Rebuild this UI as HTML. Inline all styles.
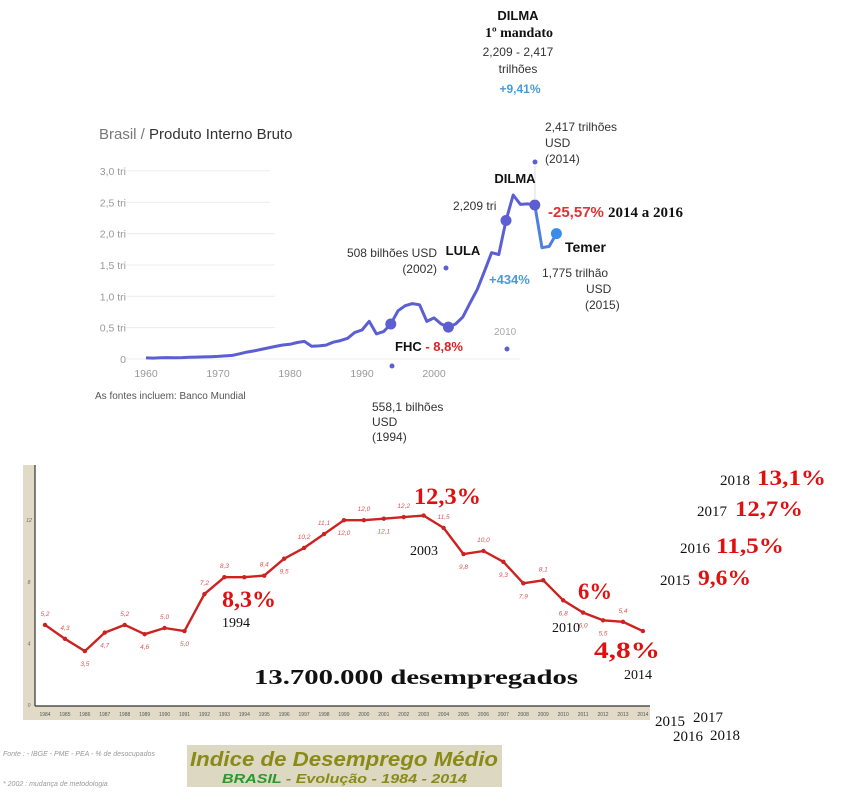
<!DOCTYPE html>
<html><head><meta charset="utf-8">
<style>
html,body{margin:0;padding:0;background:#fff;}
svg{display:block;}
.s{font-family:"Liberation Sans",sans-serif;}
.sf{font-family:"Liberation Serif",serif;}
</style></head>
<body>
<svg id="root" width="846" height="811" viewBox="0 0 846 811" xmlns="http://www.w3.org/2000/svg">
<g id="gdp"></g>
<g id="unemp"></g>
</svg>
<script>
// ---- GDP data (trillion USD) ----
const gdpYears = [1960,1961,1962,1963,1964,1965,1966,1967,1968,1969,1970,1971,1972,1973,1974,1975,1976,1977,1978,1979,1980,1981,1982,1983,1984,1985,1986,1987,1988,1989,1990,1991,1992,1993,1994,1995,1996,1997,1998,1999,2000,2001,2002,2003,2004,2005,2006,2007,2008,2009,2010,2011,2012,2013,2014,2015,2016,2017];
const gdpValues = [0.017,0.015,0.019,0.023,0.021,0.022,0.027,0.030,0.033,0.037,0.042,0.049,0.058,0.083,0.110,0.129,0.153,0.177,0.201,0.223,0.235,0.263,0.281,0.203,0.209,0.222,0.268,0.294,0.330,0.425,0.462,0.602,0.400,0.437,0.558,0.769,0.850,0.883,0.864,0.599,0.655,0.559,0.508,0.558,0.669,0.891,1.107,1.397,1.696,1.667,2.209,2.616,2.465,2.473,2.456,1.775,1.796,2.0];
const gdpTicks = [0,0.5,1.0,1.5,2.0,2.5,3.0];
const gdpTickLabels = ["0","0,5 tri","1,0 tri","1,5 tri","2,0 tri","2,5 tri","3,0 tri"];
const gdpXTicks = [1960,1970,1980,1990,2000];
const gdpHighlightYears = [1994,2002,2010,2014];

// ---- Unemployment data (%) ----
const unYears = [1984,1985,1986,1987,1988,1989,1990,1991,1992,1993,1994,1995,1996,1997,1998,1999,2000,2001,2002,2003,2004,2005,2006,2007,2008,2009,2010,2011,2012,2013,2014];
const unValues = [5.2,4.3,3.5,4.7,5.2,4.6,5.0,4.8,7.2,8.3,8.3,8.4,9.5,10.2,11.1,12.0,12.0,12.1,12.2,12.3,11.5,9.8,10.0,9.3,7.9,8.1,6.8,6.0,5.5,5.4,4.8];
const unLabels = ["5,2","4,3","3,5","4,7","5,2","4,6","5,0","5,0","7,2","8,3","","8,4","9,5","10,2","11,1","12,0","12,0","12,1","12,2","","11,5","9,8","10,0","9,3","7,9","8,1","6,8","6,0","5,5","5,4",""];
const unLabelSide = [1,1,-1,-1,1,-1,1,-1,1,1,0,1,-1,1,1,-1,1,-1,1,0,1,-1,1,-1,-1,1,-1,-1,-1,1,0];
const unTicks = [0,4,8,12];
const unTickLabels = ["0","4","8","12"];

const NS="http://www.w3.org/2000/svg";
function mk(tag,attrs,parent,text){const e=document.createElementNS(NS,tag);for(const k in attrs)e.setAttribute(k,attrs[k]);if(text!==undefined)e.textContent=text;parent.appendChild(e);return e;}

// ===== GDP chart =====
const G=document.getElementById('gdp');
const gx=y=>146+(y-1960)*7.2;
const gy=v=>359-v*62.7;
gdpTicks.forEach((t,i)=>{
  const l=mk('line',{x1:126,x2:i==0?520:(i>4?270:275),y1:gy(t),y2:gy(t),stroke:'#ececec','stroke-width':1},G);
  
  
  const tx=mk('text',{x:126,y:gy(t)+4,'text-anchor':'end','font-size':10.5,fill:'#999',class:'s'},G,gdpTickLabels[i]);
  
  
});
gdpXTicks.forEach(y=>{
  const tx=mk('text',{x:gx(y),y:377,'text-anchor':'middle','font-size':10.5,fill:'#999',class:'s'},G,String(y));
  
  
});
let d1='',d2='';
gdpYears.forEach((y,i)=>{
  const p=gx(y).toFixed(1)+','+gy(gdpValues[i]).toFixed(1);
  if(y<=2014) d1+=(d1?'L':'M')+p;
  if(y>=2014) d2+=(d2?'L':'M')+p;
});
const ln=mk('path',{d:d1,fill:'none',stroke:'#5b5fd2','stroke-width':3,'stroke-linejoin':'round'},G);


const ln2=mk('path',{d:d2,fill:'none',stroke:'#4d7fe0','stroke-width':3,'stroke-linejoin':'round'},G);


gdpHighlightYears.forEach(y=>{
  const i=gdpYears.indexOf(y);
  const c=mk('circle',{cx:gx(y),cy:gy(gdpValues[i]),r:5.5,fill:'#5b5fd2'},G);
  
  
});
{const i=gdpYears.length-1;
 const c=mk('circle',{cx:gx(gdpYears[i]),cy:gy(gdpValues[i]),r:5.5,fill:'#3b8be8'},G);
 
 }
</script>

<svg width="846" height="811" style="position:absolute;left:0;top:0" xmlns="http://www.w3.org/2000/svg">
<g class="s" font-size="12" fill="#333">
<text x="99" y="139" font-size="15" fill="#777">Brasil / <tspan fill="#333">Produto Interno Bruto</tspan></text>
<text x="95" y="399" font-size="10" fill="#555">As fontes incluem: Banco Mundial</text>
<circle cx="392" cy="366" r="2.5" fill="#5b5fd2"/>
<circle cx="446" cy="268" r="2.5" fill="#5b5fd2"/>
<circle cx="507" cy="349" r="2.5" fill="#5b5fd2"/>
<circle cx="535" cy="162" r="2.5" fill="#5b5fd2"/>
<line x1="535" y1="166" x2="535" y2="200" stroke="#ddd"/>
<text x="372" y="411">558,1 bilhões</text>
<text x="372" y="426">USD</text>
<text x="372" y="441">(1994)</text>
<text x="437" y="257" text-anchor="end">508 bilhões USD</text>
<text x="437" y="273" text-anchor="end">(2002)</text>
<text x="494" y="335" font-size="10" fill="#aaa">2010</text>
<text x="453" y="210">2,209 tri</text>
<text x="545" y="131">2,417 trilhões</text>
<text x="545" y="147">USD</text>
<text x="545" y="163">(2014)</text>
<text x="542" y="277">1,775 trilhão</text>
<text x="586" y="293">USD</text>
<text x="585" y="309">(2015)</text>
<text x="518" y="20" text-anchor="middle" font-size="13" font-weight="bold" fill="#111">DILMA</text>
<text x="519" y="37" text-anchor="middle" class="sf" font-size="14" font-weight="bold" fill="#111">1º mandato</text>
<text x="518" y="56" text-anchor="middle">2,209 - 2,417</text>
<text x="518" y="73" text-anchor="middle">trilhões</text>
<text x="520" y="93" text-anchor="middle" font-weight="bold" fill="#4a9ad8">+9,41%</text>
<text x="515" y="183" text-anchor="middle" font-size="13" font-weight="bold" fill="#111">DILMA</text>
<text x="463" y="255" text-anchor="middle" font-size="13" font-weight="bold" fill="#111">LULA</text>
<text x="489" y="284" font-size="13" font-weight="bold" fill="#4a9ad8">+434%</text>
<text x="395" y="351" font-size="13" font-weight="bold" fill="#111">FHC <tspan fill="#d22">- 8,8%</tspan></text>
<text x="548" y="217" font-size="15" font-weight="bold" fill="#d33">-25,57% <tspan class="sf" fill="#111">2014 a 2016</tspan></text>
<text x="565" y="252" font-size="14" font-weight="bold" fill="#111">Temer</text>
</g>
</svg>

<script>
// ===== Unemployment chart =====
const U=document.getElementById('unemp');
const ux=y=>45+(y-1984)*19.93;
const uy=v=>705-v*15.4;
{const r=mk('rect',{x:23,y:465,width:627,height:255,fill:'#fff'},U);
 }
{const r=mk('rect',{x:23,y:465,width:12,height:255,fill:'#e0dac6'},U);
 }
{const r=mk('rect',{x:23,y:706,width:627,height:14,fill:'#e0dac6'},U);
 }
{const l=mk('line',{x1:35,y1:465,x2:35,y2:706,stroke:'#333','stroke-width':1.2},U);
 }
{const l=mk('line',{x1:35,y1:706,x2:650,y2:706,stroke:'#333','stroke-width':1.2},U);
 }
unTicks.forEach((t,i)=>{
  const tx=mk('text',{x:29,y:uy(t)+2,'text-anchor':'middle','font-size':5,fill:'#666','font-style':'italic',class:'s'},U,unTickLabels[i]);
  
  
});
unYears.forEach(y=>{
  const tx=mk('text',{x:ux(y),y:716,'text-anchor':'middle','font-size':5,fill:'#555',class:'s'},U,String(y));
  
  
});
let ud='';
unYears.forEach((y,i)=>{ud+=(i?'L':'M')+ux(y).toFixed(1)+','+uy(unValues[i]).toFixed(1);});
{const p=mk('path',{d:ud,fill:'none',stroke:'#cc2222','stroke-width':2.4,'stroke-linejoin':'round'},U);
 }
unYears.forEach((y,i)=>{
  const c=mk('circle',{cx:ux(y),cy:uy(unValues[i]),r:2.2,fill:'#cc2222'},U);
  
  
  if(unLabels[i]){
    const side=unLabelSide[i];
    const tx=mk('text',{x:ux(y),y:uy(unValues[i])+(side>0?-9:15),'text-anchor':'middle','font-size':6.5,'font-style':'italic',fill:'#d55',class:'s'},U,unLabels[i]);
    
    
  }
});
</script>

<svg width="846" height="811" style="position:absolute;left:0;top:0" xmlns="http://www.w3.org/2000/svg">
<g class="sf" font-weight="bold">
<text x="222" y="607" font-size="23" fill="#e01010" textLength="54" lengthAdjust="spacingAndGlyphs">8,3%</text>
<text x="222" y="627" font-size="14" font-weight="normal" fill="#111">1994</text>
<text x="414" y="504" font-size="23" fill="#e01010" textLength="67" lengthAdjust="spacingAndGlyphs">12,3%</text>
<text x="410" y="555" font-size="14" font-weight="normal" fill="#111">2003</text>
<text x="578" y="599" font-size="23" fill="#e01010" textLength="34" lengthAdjust="spacingAndGlyphs">6%</text>
<text x="552" y="632" font-size="14" font-weight="normal" fill="#111">2010</text>
<text x="594" y="658" font-size="23" fill="#e01010" textLength="66" lengthAdjust="spacingAndGlyphs">4,8%</text>
<text x="624" y="679" font-size="14" font-weight="normal" fill="#111">2014</text>
<text x="254" y="684" font-size="21" fill="#111" textLength="324" lengthAdjust="spacingAndGlyphs">13.700.000  desempregados</text>
<text x="720" y="485" font-size="15" font-weight="normal" fill="#111">2018</text>
<text x="757" y="485" font-size="22" fill="#e01010" textLength="69" lengthAdjust="spacingAndGlyphs">13,1%</text>
<text x="697" y="516" font-size="15" font-weight="normal" fill="#111">2017</text>
<text x="735" y="516" font-size="22" fill="#e01010" textLength="68" lengthAdjust="spacingAndGlyphs">12,7%</text>
<text x="680" y="553" font-size="15" font-weight="normal" fill="#111">2016</text>
<text x="716" y="553" font-size="22" fill="#e01010" textLength="68" lengthAdjust="spacingAndGlyphs">11,5%</text>
<text x="660" y="585" font-size="15" font-weight="normal" fill="#111">2015</text>
<text x="698" y="585" font-size="22" fill="#e01010" textLength="53" lengthAdjust="spacingAndGlyphs">9,6%</text>
<text x="655" y="726" font-size="15" font-weight="normal" fill="#111">2015</text>
<text x="693" y="722" font-size="15" font-weight="normal" fill="#111">2017</text>
<text x="673" y="741" font-size="15" font-weight="normal" fill="#111">2016</text>
<text x="710" y="740" font-size="15" font-weight="normal" fill="#111">2018</text>
</g>
<text x="3" y="756" class="s" font-size="7" font-style="italic" fill="#999">Fonte : - IBGE - PME - PEA - % de desocupados</text>
<text x="3" y="786" class="s" font-size="7" font-style="italic" fill="#999">* 2002 : mudança de metodologia</text>
<rect x="187" y="745" width="315" height="42" fill="#ddd8c2"/>
<text x="190" y="766" class="s" font-size="20" font-weight="bold" font-style="italic" fill="#8a8a18" textLength="308" lengthAdjust="spacingAndGlyphs">Indice de Desemprego Médio</text>
<text x="222" y="783" class="s" font-size="13" font-weight="bold" font-style="italic" fill="#8a8a18" textLength="245" lengthAdjust="spacingAndGlyphs"><tspan fill="#2a9a2a">BRASIL</tspan> - Evolução - 1984 - 2014</text>
</svg>
</body></html>
